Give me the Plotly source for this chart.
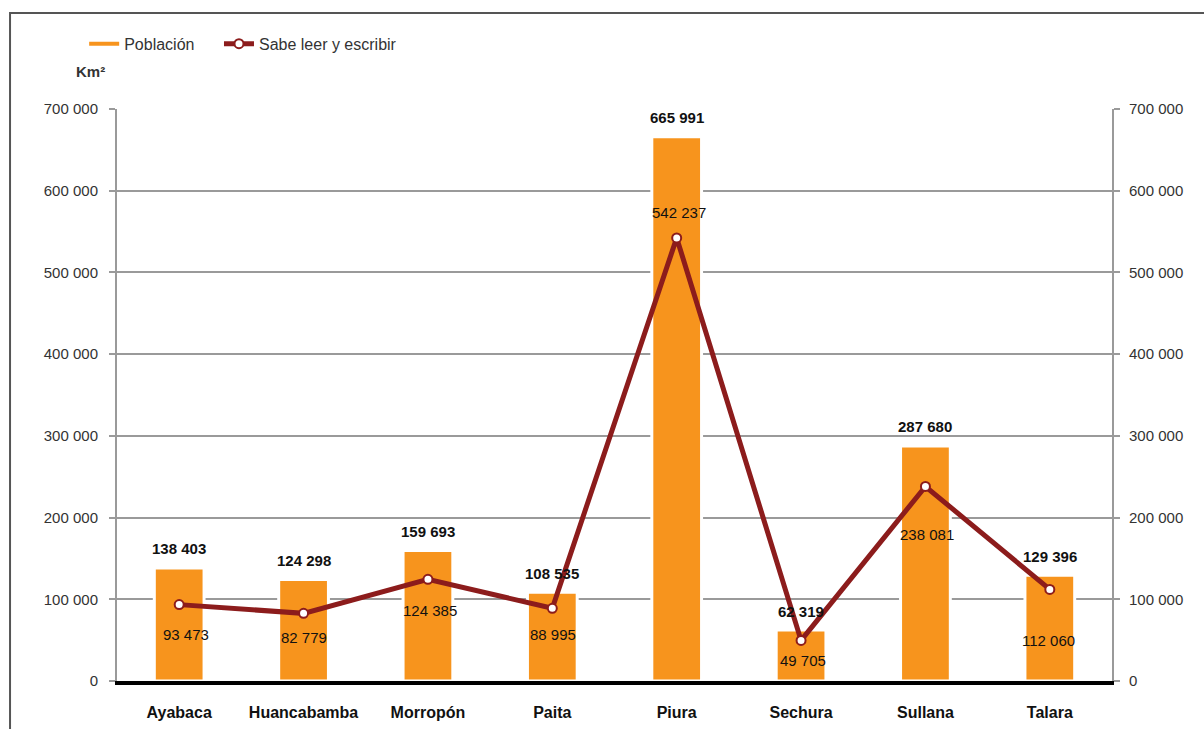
import plotly.graph_objects as go

# Provincias de Piura: población total y población que sabe leer y escribir
provincias = ["Ayabaca", "Huancabamba", "Morropón", "Paita", "Piura", "Sechura", "Sullana", "Talara"]
poblacion = [138403, 124298, 159693, 108535, 665991, 62319, 287680, 129396]
sabe_leer = [93473, 82779, 124385, 88995, 542237, 49705, 238081, 112060]
tick_vals = [0, 100000, 200000, 300000, 400000, 500000, 600000, 700000]

ORANGE = "#F7941D"
DARKRED = "#8C1C1C"
GRID = "#9A9A9A"
TXT = "#333333"
FONT = "Liberation Sans, Arial, sans-serif"

# vertical offsets (px) of the literacy labels relative to each point
line_label_shift = [-30, -24, -31, -26, 25, -20, -48, -51]
line_label_xshift = [7, 0, 2, 1, 2, 2, 2, -1]


def fmt(v):
    return f"{v:,}".replace(",", " ")


fig = go.Figure()

fig.add_trace(go.Bar(
    x=provincias, y=poblacion, name="Población",
    marker=dict(color=ORANGE, line=dict(color="white", width=3)),
    width=0.40, showlegend=False, hoverinfo="x+y",
))

# legend entry for the bars drawn as a short line
fig.add_trace(go.Scatter(
    x=[None], y=[None], mode="lines", name="Población",
    line=dict(color=ORANGE, width=4), showlegend=True, legend="legend",
))

fig.add_trace(go.Scatter(
    x=provincias, y=sabe_leer, name="Sabe leer y escribir", yaxis="y2",
    mode="lines+markers", legend="legend2",
    line=dict(color=DARKRED, width=5),
    marker=dict(size=9, color="white", line=dict(color=DARKRED, width=2)),
))

annotations = []
for p, v in zip(provincias, poblacion):
    annotations.append(dict(
        x=p, y=v, xref="x", yref="y", text=fmt(v), showarrow=False,
        yanchor="middle", yshift=19,
        font=dict(family=FONT, size=15, color="#111111", weight="bold"),
    ))
for p, v, dy, dx in zip(provincias, sabe_leer, line_label_shift, line_label_xshift):
    annotations.append(dict(
        x=p, y=v, xref="x", yref="y2", text=fmt(v), showarrow=False,
        yanchor="middle", yshift=dy, xshift=dx,
        font=dict(family=FONT, size=15, color="#111111"),
    ))
annotations.append(dict(
    x=-0.01, y=1.065, xref="paper", yref="paper", text="<b>Km²</b>",
    showarrow=False, xanchor="right", yanchor="middle",
    font=dict(family=FONT, size=15, color=TXT),
))

yaxis_common = dict(
    range=[0, 700000], tickvals=tick_vals, tickformat=",d",
    showgrid=True, gridcolor=GRID, gridwidth=2,
    showline=True, linecolor=GRID, linewidth=2,
    ticks="outside", ticklen=6, tickcolor=GRID, tickwidth=2,
    zeroline=False, fixedrange=True, automargin=False,
    tickfont=dict(family=FONT, size=15, color=TXT),
)

legend_common = dict(
    orientation="h", y=1.114, xanchor="left", yanchor="middle",
    font=dict(family=FONT, size=16, color=TXT), bgcolor="rgba(0,0,0,0)",
)

fig.update_layout(
    width=1204, height=729,
    margin=dict(l=117, r=92, t=109, b=48),
    paper_bgcolor="white", plot_bgcolor="white",
    separators=". ",
    bargap=0.6,
    xaxis=dict(
        showline=True, linecolor="black", linewidth=4,
        showgrid=False, zeroline=False, ticks="",
        ticklabelstandoff=14, automargin=False,
        tickfont=dict(family=FONT, size=16, color="#111111", weight="bold"),
    ),
    yaxis=dict(**yaxis_common, ticklabelstandoff=8),
    yaxis2=dict(**yaxis_common, overlaying="y", side="right", ticklabelstandoff=6),
    legend=dict(**legend_common, x=-0.033),
    legend2=dict(**legend_common, x=0.1025),
    annotations=annotations,
    shapes=[dict(
        type="rect", xref="paper", yref="paper",
        x0=-0.1075, x1=1.3, y0=-0.3, y1=1.168,
        line=dict(color="#555555", width=2), layer="below",
    )],
    showlegend=True,
)

fig.write_html("out.html")
